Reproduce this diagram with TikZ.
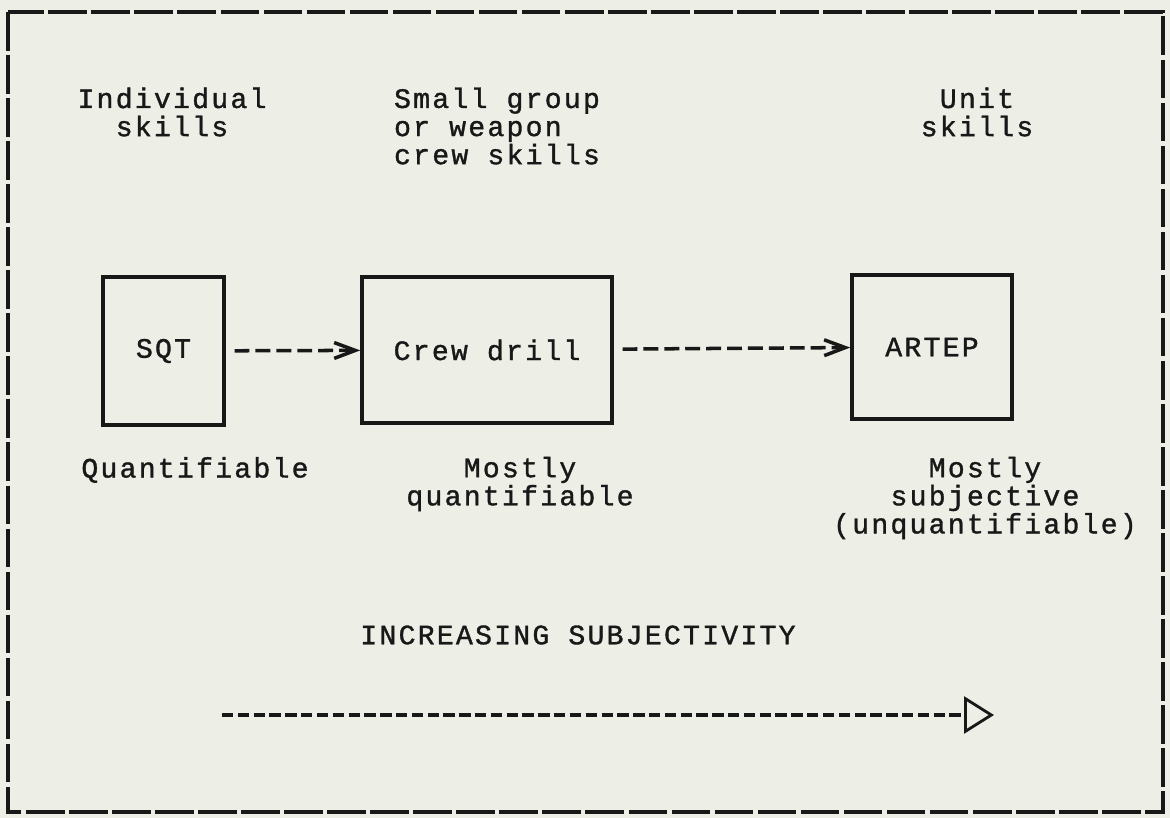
\documentclass[tikz,border=0pt]{standalone}
\usepackage{fontspec}
\setmonofont[LetterSpace=8, FakeBold=1.2]{Liberation Mono}
\usepackage{tikz}
\usetikzlibrary{positioning, arrows.meta}

\definecolor{paper}{RGB}{237,238,230}
\definecolor{ink}{RGB}{24,24,24}
\newcommand{\typefont}{\ttfamily\fontsize{16}{16}\selectfont}

\begin{document}
\begin{tikzpicture}[
    x=0.02cm, y=-0.02cm,
    stage/.style={draw=ink, line width=2pt, font=\typefont, text=ink, inner sep=0pt},
    txt/.style={font=\typefont, text=ink, align=center, inner sep=0pt},
    flow/.style={draw=ink, line width=2pt, dash pattern=on 8.5pt off 3.4pt, shorten <=5pt,
        -{Straight Barb[length=12pt, width=9pt, line width=2pt]}},
    trend/.style={draw=ink, line width=2.2pt, dash pattern=on 6.5pt off 2.5pt,
        -{Triangle[open, length=17pt, width=21pt, line width=1.6pt]}},
]
\fill[paper] (0,0) rectangle (1170,818);
\useasboundingbox (0,0) rectangle (1170,818);
\draw[ink, line width=1.8pt, dash pattern=on 22pt off 2.5pt] (8,12) rectangle (1163,812);

% levels of skill
\node[txt] (indiv) at (172,112) {Individual\\skills};
\node[txt, align=left] (group) at (497,126) {Small group\\or weapon\\crew skills};
\node[txt] (unit) at (977,112) {Unit\\skills};

% evaluations
\node[stage, minimum width=2.42cm, minimum height=2.96cm] (sqt) at (163.5,351) {SQT};
\node[stage, minimum width=5cm, minimum height=2.92cm] (crew) at (487,350) {Crew drill};
\node[stage, minimum width=3.2cm, minimum height=2.88cm] (artep) at (932,347) {ARTEP};

\draw[flow] (sqt) -- (crew);
\draw[flow] (crew) -- (artep);

% how measurable
\node[txt] (quant) at (195,470) {Quantifiable};
\node[txt] (mostq) at (520,484) {Mostly\\quantifiable};
\node[txt] (mosts) at (985,498) {Mostly\\subjective\\(unquantifiable)};

\node[txt] (incr) at (578,635) {INCREASING SUBJECTIVITY};
\coordinate (from) at (222,715);
\coordinate (to) at (994,715);
\draw[trend] (from) -- (to);
\end{tikzpicture}
\end{document}
